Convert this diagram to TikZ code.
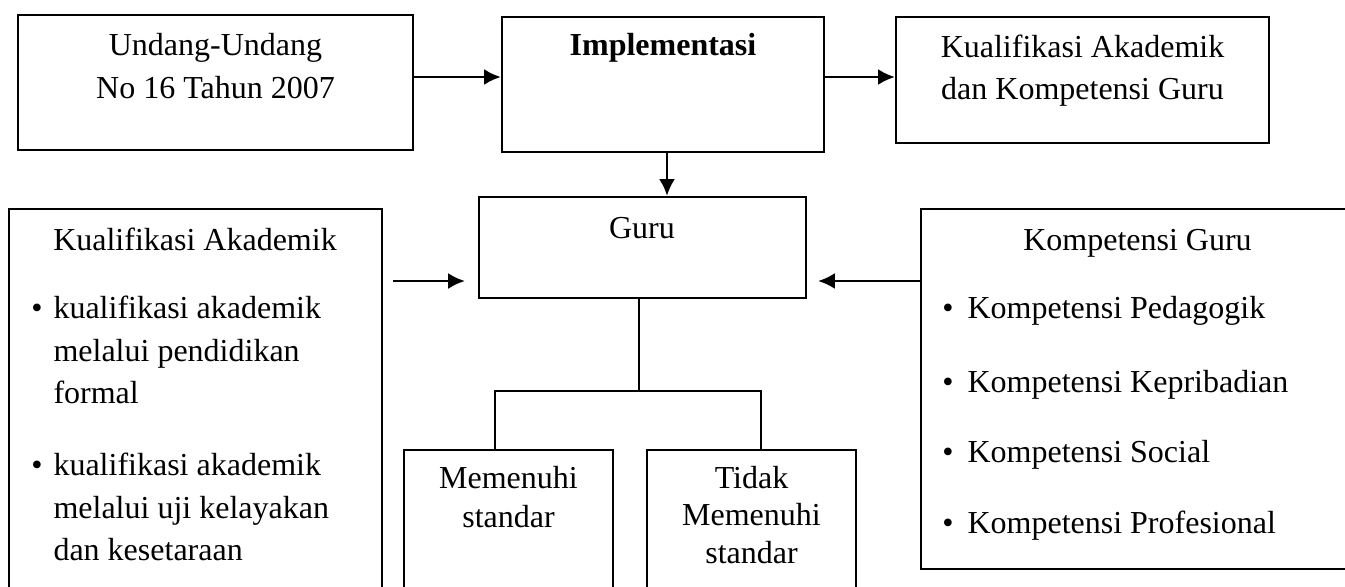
\documentclass[tikz,border=0pt]{standalone}
\usepackage{fontspec}
\setmainfont{Liberation Serif}
\usetikzlibrary{arrows.meta,fit}

\tikzset{
  box/.style={draw,line width=0.8pt,inner sep=0pt},
  txt/.style={font=\fontsize{12}{14}\selectfont,inner sep=0pt,anchor=base},
  item/.style={txt,anchor=base west},
  flow/.style={line width=1.1pt,-{Latex[length=6.3pt,width=6pt]}},
  treeline/.style={line width=0.7pt},
}

\begin{document}
\begin{tikzpicture}[x=0.375pt,y=-0.375pt]
 \clip (0,0) rectangle (1345,586);
 % top row
 \node[box,fit={(18,15) (413,150)}] (uu) {};
 \node[box,fit={(502,17) (824,152)}] (impl) {};
 \node[box,fit={(896,17) (1269,143)}] (kak) {};
 \node[txt] (uu1) at (215.5,55) {Undang-Undang};
 \node[txt] (uu2) at (215.5,98) {No 16 Tahun 2007};
 \node[txt,font=\fontsize{12}{14}\selectfont\bfseries] (implt) at (663,55) {Implementasi};
 \node[txt] (kak1) at (1082.5,57) {Kualifikasi Akademik};
 \node[txt] (kak2) at (1082.5,99) {dan Kompetensi Guru};
 % middle
 \node[box,fit={(479,197) (806,298)}] (guru) {};
 \node[txt] (gurut) at (642,238) {Guru};
 % left list
 \node[box,fit={(9,209) (382,620)}] (ka) {};
 \node[txt] (ka0) at (195,250) {Kualifikasi Akademik};
 \node[txt] (kab1) at (37,318) {\textbullet};
 \node[item] (ka1) at (53,318) {kualifikasi akademik};
 \node[item] (ka2) at (53,361) {melalui pendidikan};
 \node[item] (ka3) at (53,403) {formal};
 \node[txt] (kab2) at (37,475) {\textbullet};
 \node[item] (ka4) at (53,475) {kualifikasi akademik};
 \node[item] (ka5) at (53,518) {melalui uji kelayakan};
 \node[item] (ka6) at (53,560) {dan kesetaraan};
 % right list
 \node[box,fit={(921,209) (1354,569)}] (kg) {};
 \node[txt] (kg0) at (1137.5,250) {Kompetensi Guru};
 \foreach \y/\t [count=\i] in {318/Pedagogik,392/Kepribadian,462/Social,533/Profesional}{
  \node[txt] (kgb\i) at (948,\y) {\textbullet};
  \node[item] (kg\i) at (967,\y) {Kompetensi \t};
 }
 % bottom
 \node[box,fit={(404,450) (613,620)}] (mem) {};
 \node[txt] (mem1) at (508.5,488) {Memenuhi};
 \node[txt] (mem2) at (508.5,527) {standar};
 \node[box,fit={(647,450) (856,620)}] (tdk) {};
 \node[txt] (tdk1) at (751.5,488) {Tidak};
 \node[txt] (tdk2) at (751.5,525) {Memenuhi};
 \node[txt] (tdk3) at (751.5,563) {standar};
 % arrows
 \coordinate (row1) at (0,77);
 \coordinate (col1) at (667,0);
 \draw[flow] (uu.east |- row1) -- (impl.west |- row1);
 \draw[flow] (impl.east |- row1) -- (kak.west |- row1);
 \draw[flow] (impl.south -| col1) -- (guru.north -| col1);
 \coordinate (la) at (393,281);
 \coordinate (lb) at (465,281);
 \coordinate (rb) at (818,281);
 \draw[flow] (la) -- (lb);
 \draw[flow] (kg.west |- rb) -- (rb);
 % split
 \coordinate (split) at (639,391);
 \coordinate (jl) at (495,391);
 \coordinate (jr) at (761,391);
 \draw[treeline] (guru.south -| split) -- (split);
 \draw[treeline] (mem.north -| jl) -- (jl) -- (jr) -- (tdk.north -| jr);
\end{tikzpicture}
\end{document}
